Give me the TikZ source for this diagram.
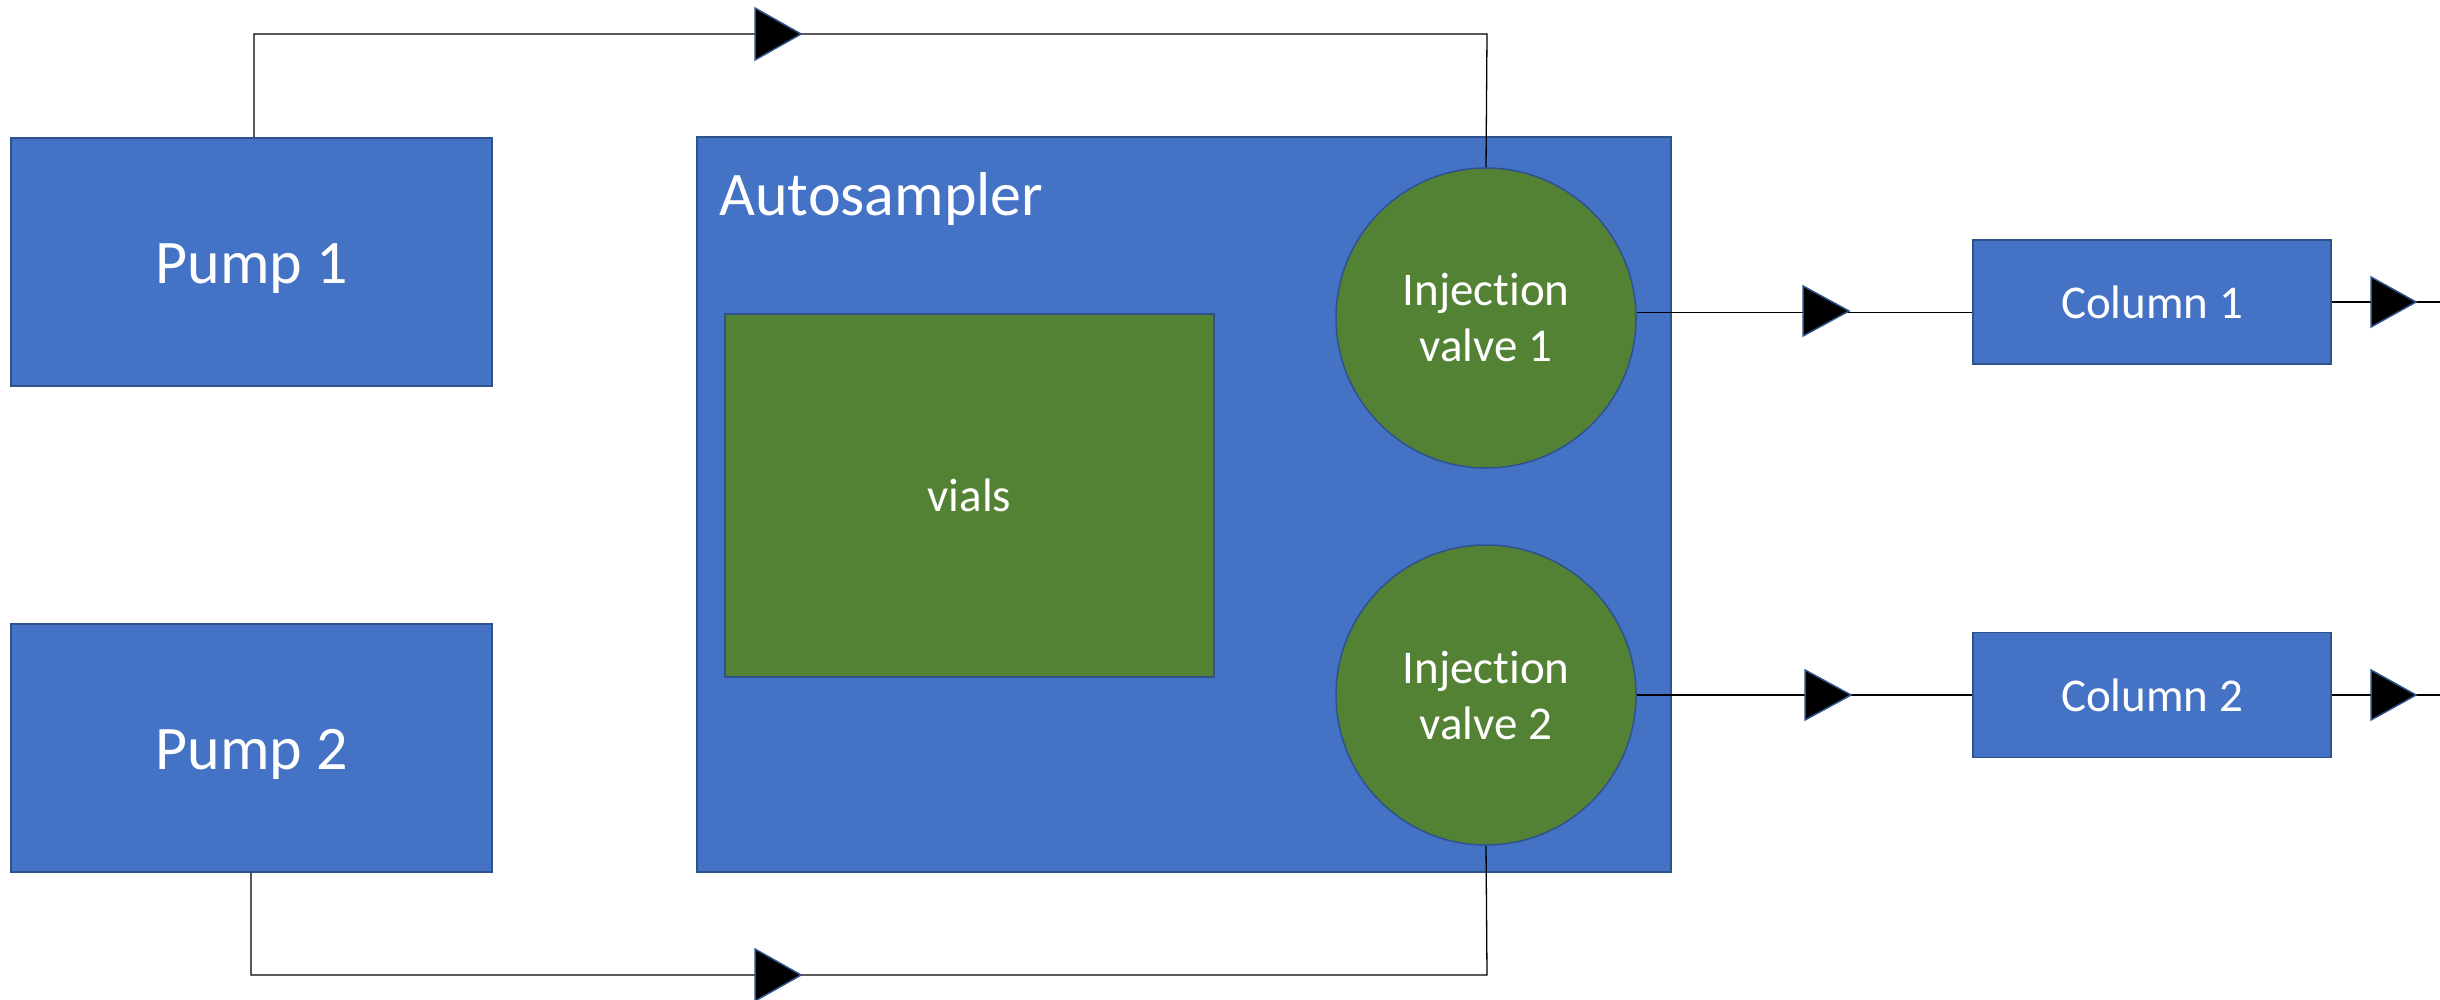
\documentclass[tikz,border=0pt]{standalone}
\usepackage{fontspec}
\setmainfont{Carlito}[Ligatures=NoCommon]
\newdimen\px \px=0.5pt
\definecolor{boxblue}{HTML}{4472C4}
\definecolor{edgeblue}{HTML}{2F528F}
\definecolor{vgreen}{HTML}{548235}
\tikzset{
  bluebox/.style={draw=edgeblue, fill=boxblue, line width=1.5\px, text=white, inner sep=0pt},
  greenbox/.style={draw=edgeblue, fill=vgreen, line width=1.5\px, text=white, inner sep=0pt},
  bigtext/.style={font=\fontsize{31pt}{37pt}\selectfont},
  smalltext/.style={font=\fontsize{23.5pt}{28pt}\selectfont},
  bigline/.style={text height=29.5pt, text depth=8.4pt},
  smallline/.style={text height=22.3pt, text depth=6.3pt},
  pipe/.style={draw=black, line width=1.3\px},
  tri/.style={fill=black, draw=edgeblue, line width=1.5\px, line join=miter},
}
\begin{document}
\begin{tikzpicture}[x=0.5pt,y=-0.5pt]
\useasboundingbox (0,0) rectangle (2440,1000);
% nodes
\node[bluebox, bigtext, bigline, minimum width=481\px, minimum height=248\px] (pump1) at (251.5,262) {Pump 1};
\node[bluebox, bigtext, bigline, minimum width=481\px, minimum height=248\px] (pump2) at (251.5,748) {Pump 2};
\node[bluebox, minimum width=974\px, minimum height=735\px] (auto) at (1184,504.5) {};
\node[text=white, bigtext, anchor=base west, inner sep=0pt] (autolabel) at (719,216) {Autosampler};
\node[greenbox, smalltext, smallline, minimum width=489\px, minimum height=363\px] (vials) at (969.5,495.5) {vials};
\node[greenbox, smalltext, circle, minimum size=300\px, align=center] (valve1) at (1486,318) {Injection\\valve 1};
\node[greenbox, smalltext, circle, minimum size=300\px, align=center] (valve2) at (1486,695) {Injection\\valve 2};
\node[bluebox, smalltext, smallline, minimum width=358\px, minimum height=124\px] (col1) at (2152,302) {Column 1};
\node[bluebox, smalltext, smallline, minimum width=358\px, minimum height=125\px] (col2) at (2152,695) {Column 2};
% free ends / corners
\coordinate (tl) at (254,34);
\coordinate (tr) at (1487,34);
\coordinate (bl) at (251,975);
\coordinate (br) at (1487,975);
\coordinate (out1) at (2440,302);
\coordinate (out2) at (2440,695);
% connectors
\draw[pipe] (pump1.north -| tl) -- (tl) -- (tr) -- (valve1.north);
\draw[pipe] (pump2.south -| bl) -- (bl) -- (br) -- (valve2.south);
\draw[pipe] (valve1.2.5) -- (valve1.2.5 -| col1.west);
\draw[pipe] (valve2.east) -- (col2.west);
\draw[pipe] (col1.east) -- (out1);
\draw[pipe] (col2.east) -- (out2);
% arrow heads
\draw[tri] (755,8) -- (801,34) -- (755,60) -- cycle;
\draw[tri] (755,949) -- (801,975) -- (755,1001) -- cycle;
\draw[tri] (1803,286) -- (1849,311) -- (1803,336) -- cycle;
\draw[tri] (1805,670) -- (1851,695) -- (1805,720) -- cycle;
\draw[tri] (2371,277) -- (2416,302) -- (2371,327) -- cycle;
\draw[tri] (2371,670) -- (2416,695) -- (2371,720) -- cycle;
\end{tikzpicture}
\end{document}
